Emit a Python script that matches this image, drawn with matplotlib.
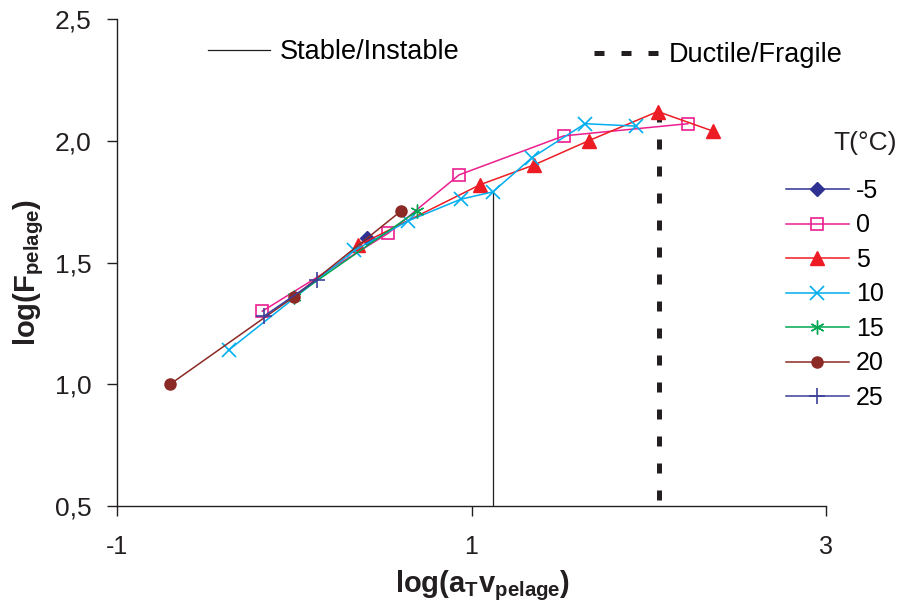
import matplotlib
matplotlib.use("Agg")
import matplotlib.pyplot as plt

plt.rcParams['font.family'] = ['Liberation Sans', 'DejaVu Sans']
plt.rcParams['mathtext.fontset'] = 'custom'
plt.rcParams['mathtext.bf'] = 'Liberation Sans:bold'
plt.rcParams['mathtext.rm'] = 'Liberation Sans'

# series: log(aT v) / log(F) per temperature
temps = ['-5', '0', '5', '10', '15', '20', '25']

x_m5 = [0.41]
y_m5 = [1.60]
x_0 = [-0.18, 0.53, 0.93, 1.52, 2.22]
y_0 = [1.30, 1.62, 1.86, 2.02, 2.07]
x_5 = [0.36, 1.05, 1.35, 1.66, 2.05, 2.36]
y_5 = [1.57, 1.82, 1.90, 2.00, 2.12, 2.04]
x_10 = [-0.37, 0.34, 0.64, 0.94, 1.12, 1.34, 1.64, 1.93]
y_10 = [1.14, 1.55, 1.67, 1.76, 1.79, 1.93, 2.07, 2.06]
x_15 = [0.00, 0.69]
y_15 = [1.36, 1.71]
x_20 = [-0.70, 0.00, 0.60]
y_20 = [1.00, 1.36, 1.71]
x_25 = [-0.17, 0.13]
y_25 = [1.28, 1.43]

# transition lines
stable_x = 1.12
stable_top = 1.79
ductile_x = 2.06
ductile_top = 2.12

xticks = [-1, 1, 3]
xtick_labels = ['-1', '1', '3']
yticks = [0.5, 1.0, 1.5, 2.0, 2.5]
ytick_labels = ['0,5', '1,0', '1,5', '2,0', '2,5']

fig = plt.figure(figsize=(8.99, 6.05), dpi=100)
ax = fig.add_axes([0.130, 0.1636, 0.789, 0.805])

stable, = ax.plot([stable_x, stable_x], [stable_top, 0.5], color='#231f20', lw=0.9, zorder=1)
ductile, = ax.plot([ductile_x, ductile_x], [ductile_top, 0.5], color='#231f20', lw=3.6,
                   dashes=(2, 3.4), dash_capstyle='butt', zorder=1)

styles = [
    (x_m5, y_m5, '#2e3192', dict(marker='D', ms=7)),
    (x_0, y_0, '#ec1e8f', dict(marker='s', ms=8, mfc='none', mew=1.2)),
    (x_5, y_5, '#ed1c24', dict(marker='^', ms=10)),
    (x_10, y_10, '#00aeef', dict(marker='x', ms=10, mew=1.2)),
    (x_15, y_15, '#00a651', dict(marker=(6, 2, 0), ms=10, mew=1.0)),
    (x_20, y_20, '#8b2a25', dict(marker='o', ms=8)),
    (x_25, y_25, '#3c3f9a', dict(marker='+', ms=11, mew=1.2)),
]
handles = []
for (xs, ys, c, kw), t in zip(styles, temps):
    h, = ax.plot(xs, ys, color=c, lw=1.1, mec=c, label=t, zorder=2, **kw)
    handles.append(h)

ax.set_xlim(-1, 3)
ax.set_ylim(0.5, 2.5)
ax.set_xticks(xticks)
ax.set_xticklabels(xtick_labels)
ax.set_yticks(yticks)
ax.set_yticklabels(ytick_labels)
ax.tick_params(axis='x', direction='out', length=7, width=1, pad=14, labelsize=18, colors='#231f20')
ax.tick_params(axis='y', direction='out', length=7, width=1, pad=11, labelsize=19, colors='#231f20')
for s in ['top', 'right']:
    ax.spines[s].set_visible(False)
for s in ['left', 'bottom']:
    ax.spines[s].set_linewidth(1)
    ax.spines[s].set_color('#231f20')

ax.set_xlabel(r'log(a$_{\mathbf{T}}$v$_{\mathbf{pelage}}$)', fontsize=21, fontweight='bold', color='#231f20')
ax.set_ylabel(r'log(F$_{\mathbf{pelage}}$)', fontsize=21, fontweight='bold', color='#231f20')
ax.xaxis.set_label_coords(0.516, -0.128)
ax.yaxis.set_label_coords(-0.100, 0.48)

# top legends for the two transition lines
fig.legend([stable], ['Stable/Instable'], loc='center left', bbox_to_anchor=(208 / 899, 1 - 52 / 605),
           frameon=False, fontsize=19.5, handlelength=2.3, handletextpad=0.35, borderpad=0, borderaxespad=0)
fig.legend([ductile], ['Ductile/Fragile'], loc='center left', bbox_to_anchor=(594 / 899, 1 - 55 / 605),
           frameon=False, fontsize=19.5, handlelength=2.6, handletextpad=0.15, borderpad=0, borderaxespad=0)

# temperature legend
fig.text(897 / 899, 1 - 143 / 605, 'T(°C)', ha='right', va='center', fontsize=19, color='#231f20')
fig.legend(handles=handles, loc='upper left', bbox_to_anchor=(786 / 899, 1 - 179 / 605),
           frameon=False, fontsize=18, handlelength=2.5, handletextpad=0.3, labelspacing=0.42,
           borderpad=0, borderaxespad=0)

fig.savefig('out.png', dpi=100)
